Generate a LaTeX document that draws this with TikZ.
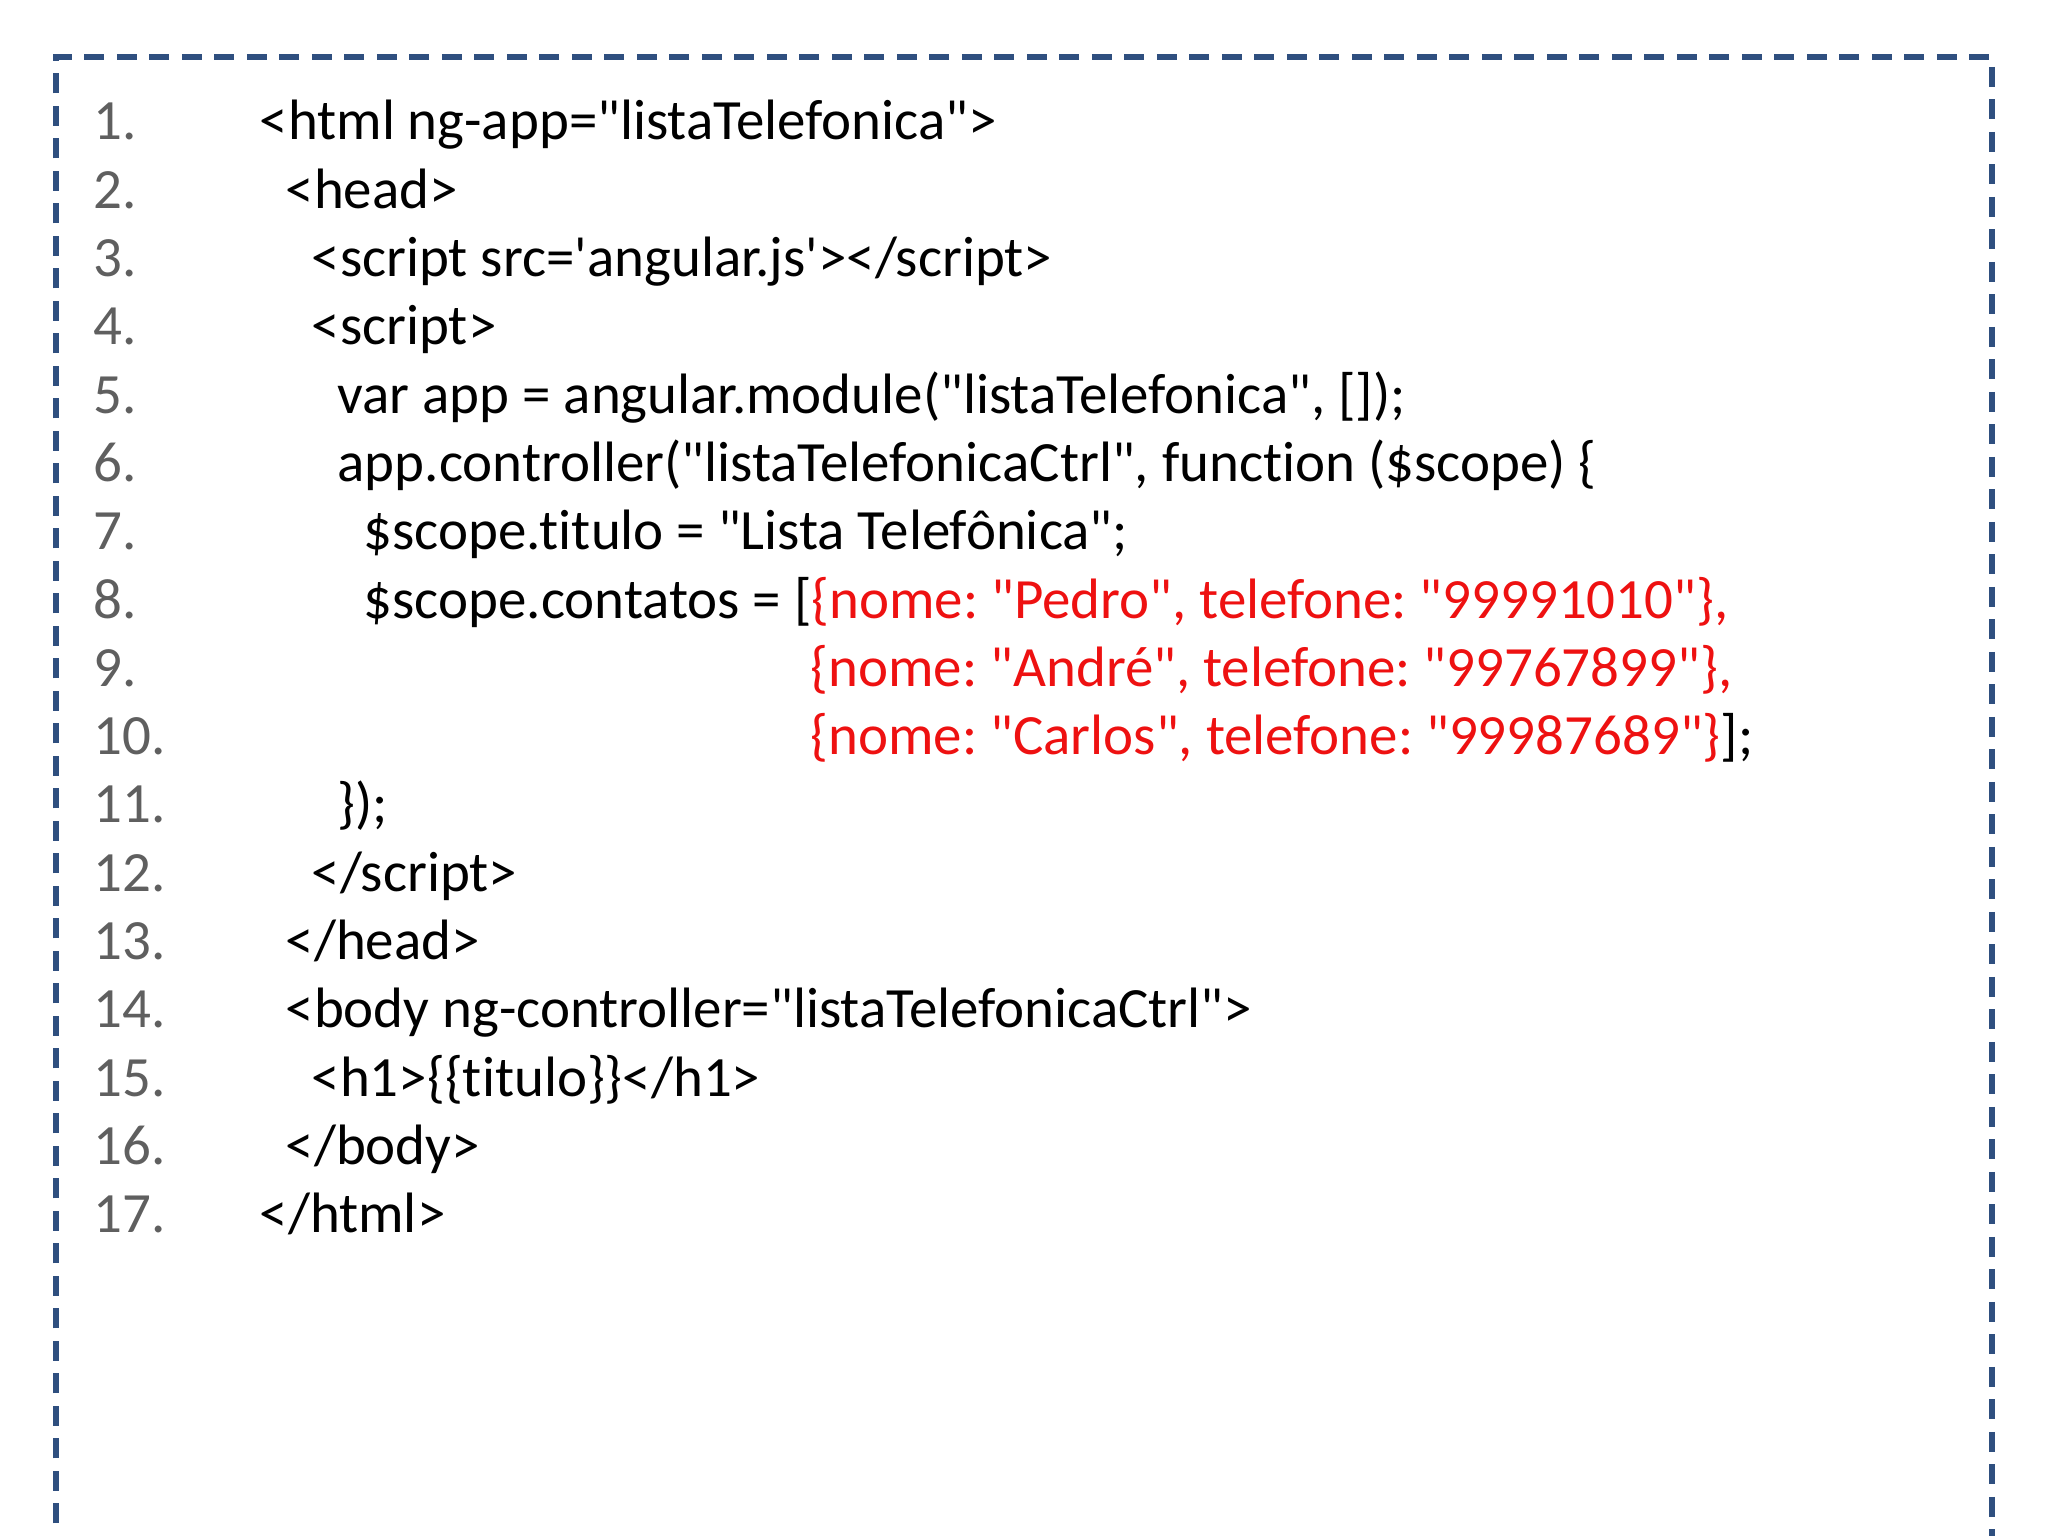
\documentclass[tikz,border=0pt]{standalone}
\usepackage{fontspec}
\setmainfont{Carlito}[Ligatures={TeXOff,NoCommon}]
\definecolor{boxblue}{HTML}{2F4F7F}
\definecolor{numgray}{HTML}{5F5F5F}
\definecolor{codered}{HTML}{EE1111}
\begin{document}
\frenchspacing
\begin{tikzpicture}[x=1cm,y=1cm,
  codeline/.style={anchor=base west,inner sep=0pt,font=\fontsize{16.2pt}{19pt}\selectfont},
  numline/.style={anchor=base west,inner sep=0pt,text=numgray,font=\fontsize{16.2pt}{19pt}\selectfont}]
\useasboundingbox (0,0) rectangle (20.48,15.36);
\fill[white] (0,0) rectangle (20.48,15.36);
\coordinate (bl) at (0.56,-0.2);
\coordinate (tr) at (19.92,14.79);
\draw[boxblue,line width=0.55mm,dash pattern=on 2mm off 1.25mm] (bl) -- (bl|-tr) -- (tr) -- (tr|-bl);
\def\Y#1{{13.96-0.683*(#1-1)}}
\foreach \i in {1,...,17}{
  \node[numline] (n\i) at (0.93,{13.96-0.683*(\i-1)}) {\i.};
}
\node[codeline] (c1) at (2.59,\Y{1}) {<html ng-app="listaTelefonica">};
\node[codeline] (c2) at (2.85,\Y{2}) {<head>};
\node[codeline] (c3) at (3.11,\Y{3}) {<script src='angular.js'></script>};
\node[codeline] (c4) at (3.11,\Y{4}) {<script>};
\node[codeline] (c5) at (3.37,\Y{5}) {var app = angular.module("listaTelefonica", []);};
\node[codeline] (c6) at (3.37,\Y{6}) {app.controller("listaTelefonicaCtrl", function (\$scope) \{};
\node[codeline] (c7) at (3.63,\Y{7}) {\$scope.titulo = "Lista Telefônica";};
\node[codeline] (c8) at (3.63,\Y{8}) {\$scope.contatos = [\textcolor{codered}{\{nome: "Pedro", telefone: "99991010"\},}};
\node[codeline] (c9) at (8.10,\Y{9}) {\textcolor{codered}{\{nome: "André", telefone: "99767899"\},}};
\node[codeline] (c10) at (8.10,\Y{10}) {\textcolor{codered}{\{nome: "Carlos", telefone: "99987689"\}}];};
\node[codeline] (c11) at (3.37,\Y{11}) {\});};
\node[codeline] (c12) at (3.11,\Y{12}) {</script>};
\node[codeline] (c13) at (2.85,\Y{13}) {</head>};
\node[codeline] (c14) at (2.85,\Y{14}) {<body ng-controller="listaTelefonicaCtrl">};
\node[codeline] (c15) at (3.11,\Y{15}) {<h1>\{\{titulo\}\}</h1>};
\node[codeline] (c16) at (2.85,\Y{16}) {</body>};
\node[codeline] (c17) at (2.59,\Y{17}) {</html>};
\end{tikzpicture}
\end{document}
